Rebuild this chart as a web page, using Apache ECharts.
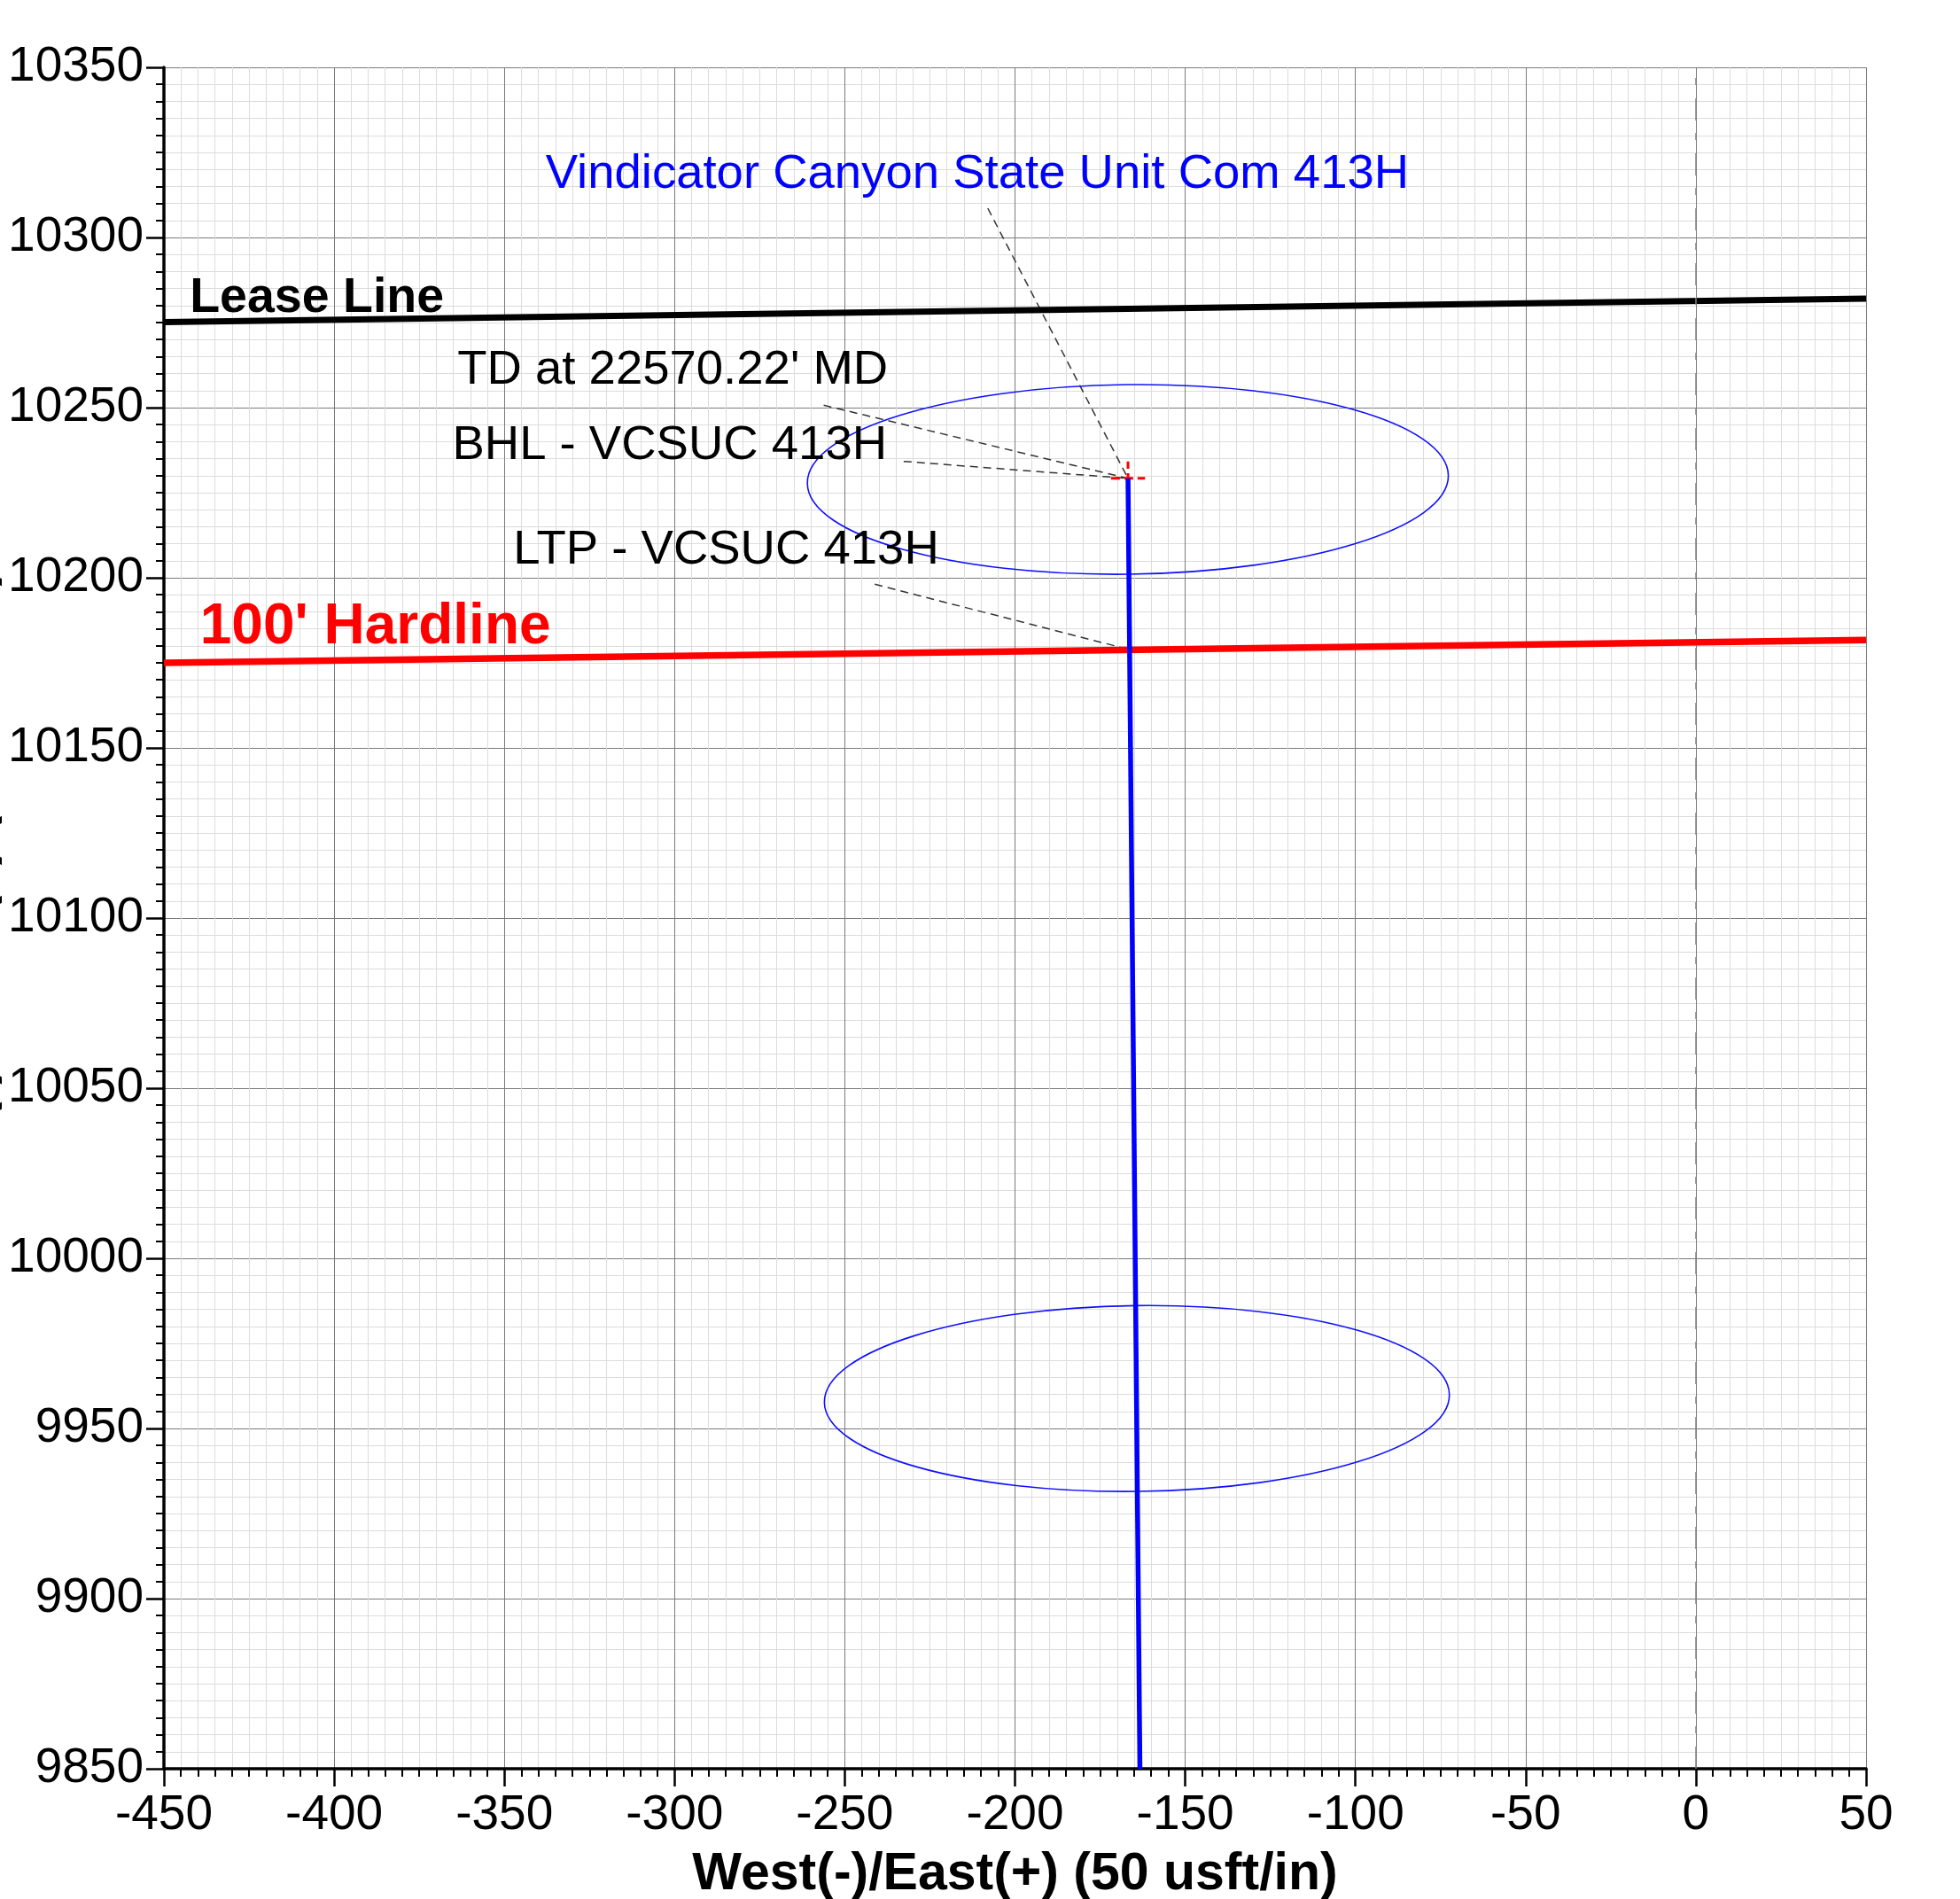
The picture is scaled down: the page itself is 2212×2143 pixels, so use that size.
<!DOCTYPE html>
<html>
<head>
<meta charset="utf-8">
<script src="https://cdn.jsdelivr.net/npm/echarts@6/dist/echarts.min.js"></script>
<style>
html,body{margin:0;padding:0;background:#ffffff;}
#chart{width:2212px;height:2143px;}
</style>
</head>
<body>
<div id="chart"></div>
<script>
// ---------------- data ----------------
const xRange = [-450, 50];
const yRange = [9850, 10350];
const tickStep = 50;

const leaseLine = [[-450, 10275.1], [50, 10282.0]];
const hardLine  = [[-450, 10175.0], [50, 10181.7]];
const wellPath  = [[-163.3, 9850], [-166.8, 10229.2]];
const bhlPoint  = [-166.8, 10229.2];
const ltpPoint  = [-166.4, 10178.9];
const crossH    = [[-171.8, 10229.2], [-161.8, 10229.2]];
const crossV    = [[-166.8, 10224.2], [-166.8, 10234.2]];
// error ellipses: [centreX, centreY, semiAxisX, semiAxisY, tiltDeg]
const ellipses  = [
  [-166.85, 10228.9, 94.15, 27.86, 0.7],
  [-164.2,   9958.8, 91.8,  27.3,  0.7]
];
// leader line start points (they run to the BHL / LTP points)
const leaderStarts = [[-208.0, 10308.6], [-256.2, 10250.7], [-232.7, 10234.2], [-241.2, 10198.1]];
const leaderEnds   = [bhlPoint, bhlPoint, bhlPoint, ltpPoint];

const labelTexts   = [
  'Vindicator Canyon State Unit Com 413H',
  'Lease Line',
  "TD at 22570.22' MD",
  'BHL - VCSUC 413H',
  'LTP - VCSUC 413H',
  "100' Hardline"
];
const labelAnchors = [
  [-337.9, 10318.6],
  [-442.4, 10282.2],
  [-363.8, 10260.9],
  [-365.3, 10238.9],
  [-347.4, 10208.1],
  [-439.4, 10185.2]
];
const xAxisName = 'West(-)/East(+) (50 usft/in)';
const yAxisName = 'South(-)/North(+) (50 usft/in)';

// ---------------- styles ----------------
const FONT = "'Liberation Sans', Arial, Helvetica, sans-serif";
const labelStyles = [
  {color: '#0000ff', size: 54.5, weight: 'normal'},
  {color: '#000000', size: 55.5, weight: 'bold'},
  {color: '#000000', size: 54.5, weight: 'normal'},
  {color: '#000000', size: 54.5, weight: 'normal'},
  {color: '#000000', size: 54.5, weight: 'normal'},
  {color: '#ff0000', size: 64, weight: 'bold'}
];

function axisCommon() {
  return {
    type: 'value',
    interval: tickStep,
    axisLine: {show: true, onZero: false, lineStyle: {color: '#000', width: 3.5}},
    axisTick: {show: true, inside: false, length: 20, lineStyle: {color: '#000', width: 2.5}},
    minorTick: {show: true, splitNumber: 10, length: 9, lineStyle: {color: '#000', width: 2}},
    splitLine: {show: true, lineStyle: {color: '#7a7a7a', width: 1}},
    minorSplitLine: {show: true, lineStyle: {color: '#dcdcdc', width: 1}},
    axisLabel: {fontSize: 55, fontFamily: FONT, color: '#000', formatter: function (v) { return String(v); }},
    nameLocation: 'middle',
    nameMoveOverlap: false,
    nameTextStyle: {fontSize: 59, fontWeight: 'bold', fontFamily: FONT, color: '#000'}
  };
}

const xAxis = Object.assign(axisCommon(), {
  min: xRange[0], max: xRange[1], position: 'bottom',
  name: xAxisName, nameGap: 90
});
xAxis.axisLabel = Object.assign({}, xAxis.axisLabel, {margin: 25});

const yAxis = Object.assign(axisCommon(), {
  min: yRange[0], max: yRange[1], position: 'left',
  name: yAxisName, nameGap: 182
});
yAxis.axisLabel = Object.assign({}, yAxis.axisLabel, {margin: 23});

function lineSeries(name, data, color, width, type) {
  return {
    name: name, type: 'line', data: data, symbol: 'none', silent: true,
    lineStyle: {color: color, width: width, type: type || 'solid'},
    clip: true
  };
}

const series = [];

// zero reference (dash-dot) line
series.push({
  type: 'line', data: [], silent: true,
  markLine: {
    silent: true, symbol: ['none', 'none'], label: {show: false},
    lineStyle: {color: '#808080', width: 1.5, type: [25, 15, 8, 14]},
    data: [{xAxis: 0}]
  }
});

// leader lines
leaderStarts.forEach(function (s, i) {
  series.push(lineSeries('leader' + i, [s, leaderEnds[i]], '#333333', 1.5, [9, 6]));
});

// ellipses
series.push({
  type: 'custom', silent: true, data: ellipses, encode: {x: 0, y: 1},
  renderItem: function (params, api) {
    const c = api.coord([api.value(0), api.value(1)]);
    const s = api.size([api.value(2), api.value(3)]);
    return {
      type: 'ellipse', x: c[0], y: c[1],
      rotation: api.value(4) * Math.PI / 180,
      shape: {cx: 0, cy: 0, rx: s[0], ry: s[1]},
      style: {fill: 'none', stroke: '#1010ff', lineWidth: 1.6}
    };
  }
});

series.push(lineSeries('Lease Line', leaseLine, '#000000', 7));
series.push(lineSeries('Hardline', hardLine, '#ff0000', 7.5));
series.push(lineSeries('crossH', crossH, '#ff0000', 3, [10, 5]));
series.push(lineSeries('crossV', crossV, '#ff0000', 3, [10, 5]));
series.push(lineSeries('Wellpath', wellPath, '#0000ff', 5.5));

// text annotations
series.push({
  type: 'custom', silent: true, clip: false,
  data: labelAnchors.map(function (p, i) { return [p[0], p[1], i]; }),
  encode: {x: 0, y: 1},
  renderItem: function (params, api) {
    const i = api.value(2);
    const c = api.coord([api.value(0), api.value(1)]);
    const st = labelStyles[i];
    return {
      type: 'text', x: c[0], y: c[1], z2: 100,
      style: {
        text: labelTexts[i], fill: st.color,
        fontSize: st.size, fontWeight: st.weight, fontFamily: FONT,
        align: 'left', verticalAlign: 'middle',
        textAlign: 'left', textVerticalAlign: 'middle'
      }
    };
  }
});

const chart = echarts.init(document.getElementById('chart'), null, {renderer: 'canvas'});
chart.setOption({
  animation: false,
  backgroundColor: '#ffffff',
  grid: {left: 185, right: 106, top: 76, bottom: 147, containLabel: false, outerBoundsMode: 'none'},
  xAxis: xAxis,
  yAxis: yAxis,
  series: series
});
</script>
</body>
</html>
